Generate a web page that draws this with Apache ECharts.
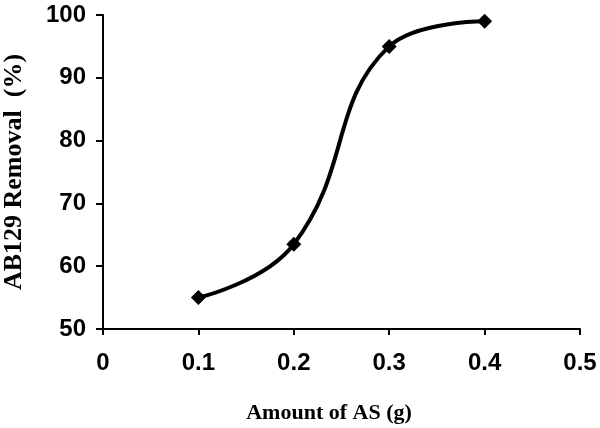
<!DOCTYPE html>
<html>
<head>
<meta charset="utf-8">
<script src="https://cdn.jsdelivr.net/npm/echarts@6/dist/echarts.min.js"></script>
<style>
  html, body { margin: 0; padding: 0; background: #fff; }
  #chart { width: 600px; height: 428px; }
</style>
</head>
<body>
<div id="chart"></div>
<script>
// data
const amounts = [0.1, 0.2, 0.3, 0.4];
const removal = [55, 63.5, 95, 99];
const xTitle = 'Amount of AS (g)';
const yTitle = 'AB129 Removal  (%)';

const chart = echarts.init(document.getElementById('chart'));

const axisText = { color: '#000', fontFamily: 'Liberation Sans, Arial', fontWeight: 'bold', fontSize: 24 };
const titleText = { color: '#000', fontFamily: 'Liberation Serif, Times New Roman', fontWeight: 'bold' };

chart.setOption({
  animation: false,
  grid: { left: 103, right: 20, top: 15, bottom: 99, outerBoundsMode: 'none' },
  xAxis: {
    type: 'value',
    min: 0, max: 0.5, interval: 0.1,
    name: xTitle,
    nameLocation: 'middle',
    nameGap: 73,
    nameTextStyle: Object.assign({}, titleText, { fontSize: 22, padding: [0, 25, 0, 0] }),
    axisLine: { lineStyle: { color: '#000', width: 2 } },
    axisTick: { show: true, length: 6, lineStyle: { color: '#000', width: 2 } },
    axisLabel: Object.assign({}, axisText, { margin: 22 }),
    splitLine: { show: false }
  },
  yAxis: {
    type: 'value',
    min: 50, max: 100, interval: 10,
    name: yTitle,
    nameLocation: 'middle',
    nameGap: 76,
    nameTextStyle: Object.assign({}, titleText, { fontSize: 26 }),
    axisLine: { show: true, lineStyle: { color: '#000', width: 2 } },
    axisTick: { show: true, length: 7, lineStyle: { color: '#000', width: 2 } },
    axisLabel: Object.assign({}, axisText, { margin: 17 }),
    splitLine: { show: false }
  },
  series: [{
    type: 'line',
    data: amounts.map(function (x, i) { return [x, removal[i]]; }),
    smooth: 0.45,
    symbol: 'diamond',
    symbolSize: 15,
    itemStyle: { color: '#000' },
    lineStyle: { color: '#000', width: 4 }
  }]
});
</script>
</body>
</html>
